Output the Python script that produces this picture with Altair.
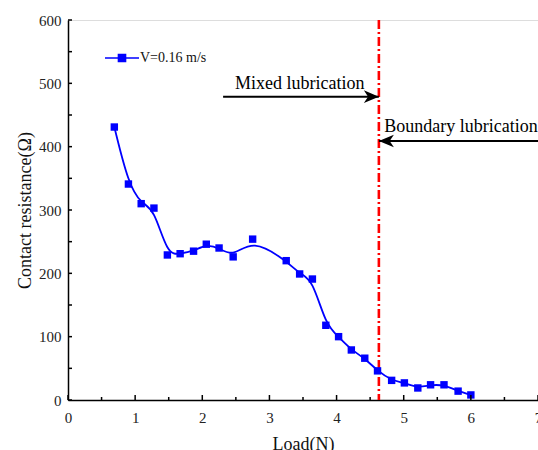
import altair as alt
import pandas as pd

# ---- data ----
load_n = [0.69, 0.90, 1.09, 1.28, 1.48, 1.67, 1.87, 2.06, 2.25, 2.46, 2.75, 3.25, 3.45,
          3.64, 3.84, 4.03, 4.22, 4.42, 4.61, 4.82, 5.01, 5.21, 5.40, 5.60, 5.81, 6.00]
resistance = [431, 341, 310, 303, 229, 231, 235, 246, 240, 226, 254, 220, 199,
              191, 118, 100, 79, 66, 46, 31, 27, 19, 24, 24, 14, 8]
series_name = "V=0.16 m/s"

x_major = [0, 1, 2, 3, 4, 5, 6, 7]
x_minor = [0.5, 1.5, 2.5, 3.5, 4.5, 5.5, 6.5]
y_major = [0, 100, 200, 300, 400, 500, 600]
y_minor = [50, 150, 250, 350, 450, 550]

transition_load = 4.63
mixed_label = "Mixed lubrication"
boundary_label = "Boundary lubrication"

FONT = "Liberation Serif"
W, H = 470, 380

df = pd.DataFrame({"load": load_n, "res": resistance, "series": series_name})

xs = alt.Scale(domain=[0, 7], nice=False, zero=False)
ys = alt.Scale(domain=[0, 600], nice=False)

color = alt.Color(
    "series:N",
    scale=alt.Scale(range=["#0000ff"]),
    legend=alt.Legend(
        title=None, orient="none", legendX=36, legendY=20, padding=0,
        symbolType="M-1,0H1M-0.21,-0.21H0.21V0.21H-0.21Z",
        symbolSize=1156, symbolStrokeWidth=1.5,
        labelFont=FONT, labelFontSize=14, labelColor="#111", labelOffset=0,
    ),
)

base_x = alt.X("load:Q", scale=xs,
               axis=alt.Axis(values=x_major, format="d", tickSize=0, labelFont=FONT, labelFontSize=15,
                             labelColor="#222", labelPadding=10, title="Load(N)",
                             titleFont=FONT, titleFontSize=18, titleFontWeight="normal",
                             titleColor="#111", titlePadding=10, domainColor="black",
                             domainWidth=1.5, grid=False, labelFlush=False))
base_y = alt.Y("res:Q", scale=ys,
               axis=alt.Axis(values=y_major, format="d", tickSize=0, labelFont=FONT, labelFontSize=15,
                             labelColor="#222", labelPadding=7, title="Contact resistance(Ω)",
                             titleFont=FONT, titleFontSize=18, titleFontWeight="normal",
                             titleColor="#111", titlePadding=4, domainColor="black",
                             domainWidth=1.5, grid=False))

line = alt.Chart(df).mark_line(interpolate="basis", strokeWidth=1.8).encode(
    x=base_x, y=base_y, color=color)
pts = alt.Chart(df).mark_point(shape="square", filled=True, size=55, opacity=1).encode(
    x="load:Q", y="res:Q", color=color)

# inward ticks
xt_major = alt.Chart(pd.DataFrame({"v": x_major})).mark_rule(color="black", strokeWidth=1.5).encode(
    x=alt.X("v:Q", scale=xs), y=alt.value(H), y2=alt.value(H - 5))
xt_minor = alt.Chart(pd.DataFrame({"v": x_minor})).mark_rule(color="black", strokeWidth=1.5).encode(
    x=alt.X("v:Q", scale=xs), y=alt.value(H), y2=alt.value(H - 3))
yt_major = alt.Chart(pd.DataFrame({"v": y_major})).mark_rule(color="black", strokeWidth=1.5).encode(
    y=alt.Y("v:Q", scale=ys), x=alt.value(0), x2=alt.value(4))
yt_minor = alt.Chart(pd.DataFrame({"v": y_minor})).mark_rule(color="black", strokeWidth=1.5).encode(
    y=alt.Y("v:Q", scale=ys), x=alt.value(0), x2=alt.value(4))

# transition line
vline = alt.Chart(pd.DataFrame({"x": [transition_load]})).mark_rule(
    color="#ff0000", strokeWidth=2.6, strokeDash=[9, 3, 2, 3]).encode(
    x=alt.X("x:Q", scale=xs))

# arrows
arrows = pd.DataFrame({
    "x1": [2.31, 7.0], "x2": [transition_load, transition_load], "y": [479, 409]})
shafts = alt.Chart(arrows).mark_rule(color="black", strokeWidth=2).encode(
    x=alt.X("x1:Q", scale=xs), x2="x2:Q", y=alt.Y("y:Q", scale=ys))
head_r = alt.Chart(pd.DataFrame({"x": [transition_load], "y": [479]})).mark_point(
    shape="M-1,-0.42L0,0L-1,0.42L-0.72,0Z", filled=True, color="black", size=900, opacity=1).encode(
    x=alt.X("x:Q", scale=xs), y=alt.Y("y:Q", scale=ys))
head_l = alt.Chart(pd.DataFrame({"x": [transition_load], "y": [409]})).mark_point(
    shape="M1,-0.42L0,0L1,0.42L0.72,0Z", filled=True, color="black", size=900, opacity=1).encode(
    x=alt.X("x:Q", scale=xs), y=alt.Y("y:Q", scale=ys))

labels = pd.DataFrame({"x": [3.45, 4.71], "y": [491, 423], "t": [mixed_label, boundary_label]})
txt_mixed = alt.Chart(labels.iloc[[0]]).mark_text(
    font=FONT, fontSize=18, color="black", align="center", baseline="alphabetic").encode(
    x=alt.X("x:Q", scale=xs), y=alt.Y("y:Q", scale=ys), text="t:N")
txt_bound = alt.Chart(labels.iloc[[1]]).mark_text(
    font=FONT, fontSize=18, color="black", align="left", baseline="alphabetic").encode(
    x=alt.X("x:Q", scale=xs), y=alt.Y("y:Q", scale=ys), text="t:N")

chart = alt.layer(
    line, vline, pts, xt_major, xt_minor, yt_major, yt_minor,
    shafts, head_r, head_l, txt_mixed, txt_bound,
).properties(
    width=W, height=H,
    autosize=alt.AutoSizeParams(type="none"),
    padding={"left": 68, "top": 20, "right": 0, "bottom": 50},
).configure_view(
    stroke="black", strokeWidth=1.5
).configure(background="white")

chart.save("out.html", embed_options={"renderer": "svg", "actions": False})
